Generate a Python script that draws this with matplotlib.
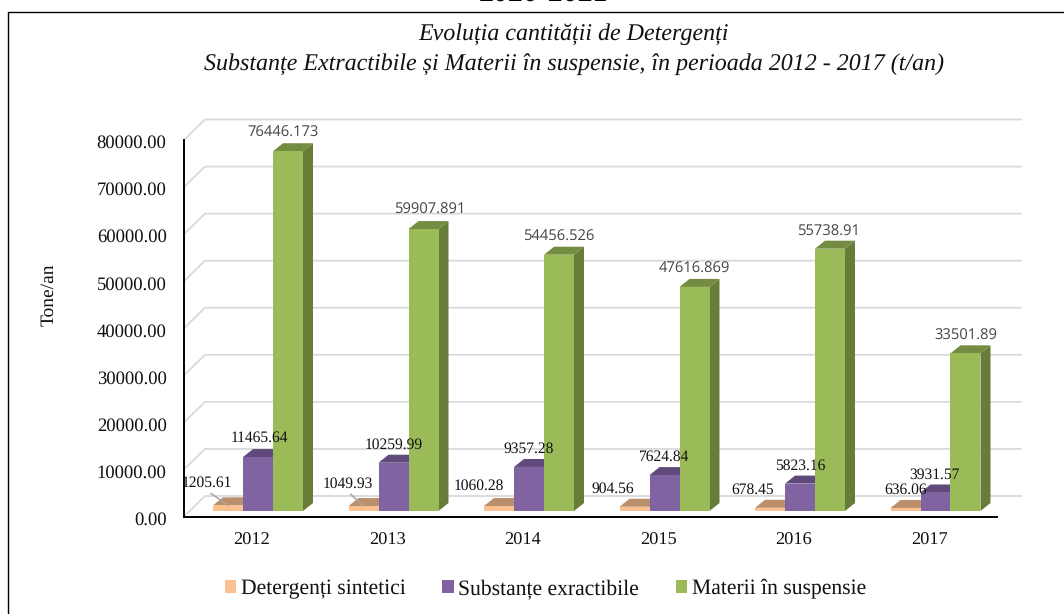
import matplotlib
matplotlib.use("Agg")
import matplotlib.pyplot as plt
from matplotlib.lines import Line2D
from matplotlib.patches import Patch, Polygon
from matplotlib.transforms import ScaledTranslation

# ---------- data ----------
years = ["2012", "2013", "2014", "2015", "2016", "2017"]
detergenti = [1205.61, 1049.93, 1060.28, 904.56, 678.45, 636.06]
substante = [11465.64, 10259.99, 9357.28, 7624.84, 5823.16, 3931.57]
materii = [76446.173, 59907.891, 54456.526, 47616.869, 55738.91, 33501.89]
series_names = ["Detergenți sintetici", "Substanțe exractibile", "Materii în suspensie"]
y_ticks = [0, 10000, 20000, 30000, 40000, 50000, 60000, 70000, 80000]

# ---------- label nudges (pixels from the bar-top centre) ----------
det_nudge = [(-21, 22), (-16, 22), (-20, 20), (-22, 18), (-17, 18), (0, 18)]
sub_nudge = [(1, 19), (0, 18), (0, 18), (0, 18), (0, 18), (-1, 18)]
mat_nudge = [(-5, 18), (6, 19), (0, 18), (0, 18), (-1, 17), (0, 17)]
leaders = [True, True, False, False, False, False]

# ---------- style ----------
W, H, DPI = 1064, 614, 100
SERIF = "Liberation Serif"
FACE = ["#FAC090", "#8064A2", "#9BBB59"]
TOP = ["#BA8F6B", "#604A7B", "#748C42"]
SIDE = ["#BA8F6B", "#4F3D66", "#667C38"]

plt.rcParams["font.family"] = SERIF
plt.rcParams["text.hinting"] = "none"
fig = plt.figure(figsize=(W / DPI, H / DPI), dpi=DPI, facecolor="white")
L, R, T, B = 184, 997, 140, 516.5
ax = fig.add_axes([L / W, 1 - B / H, (R - L) / W, (B - T) / H])
ax.set_xlim(-0.5, 5.5)
ax.set_ylim(0, 80000)
ax.patch.set_alpha(0)

px_x = 6.0 / (R - L)          # data units per pixel, x
px_y = 80000 / (B - T)        # data units per pixel, y
bar_w = 30 * px_x
bar_dx, bar_dy = 10 * px_x, 8 * px_y
floor = 5.5 * px_y
wall_dx, wall_dy = 21 * px_x, 20.5 * px_y
shift = 6.25 * px_x

# back wall gridlines
for t in y_ticks:
    ax.plot([-0.5, -0.5 + wall_dx, 5.5 + 24 * px_x],
            [t, t + wall_dy, t + wall_dy],
            color="#D9D9D9", lw=1.3, clip_on=False, zorder=1)

# pseudo-3D bars
xs = list(range(len(years)))
all_series = [detergenti, substante, materii]
all_nudges = [det_nudge, sub_nudge, mat_nudge]
for k, vals in enumerate(all_series):
    pos = [x + (k - 1) * bar_w + shift for x in xs]
    for x, v in zip(pos, vals):
        x0, x1 = x - bar_w / 2, x + bar_w / 2
        top = floor + v
        ax.add_patch(Polygon([(x1, floor), (x1 + bar_dx, floor + bar_dy),
                              (x1 + bar_dx, top + bar_dy), (x1, top)],
                             fc=SIDE[k], ec="none", clip_on=False, zorder=3 + k))
        ax.add_patch(Polygon([(x0, top), (x1, top), (x1 + bar_dx, top + bar_dy),
                              (x0 + bar_dx, top + bar_dy)],
                             fc=TOP[k], ec="none", clip_on=False, zorder=3 + k))
    ax.bar(pos, vals, width=bar_w, bottom=floor, color=FACE[k], linewidth=0,
           zorder=3.5 + k, clip_on=False)

# value labels
for k, (vals, nudges) in enumerate(zip(all_series, all_nudges)):
    pos = [x + (k - 1) * bar_w + shift for x in xs]
    for i, (x, v, n) in enumerate(zip(pos, vals, nudges)):
        kw = dict(family=SERIF, fontsize=11.2, color="#111111")
        if k == 2:
            kw = dict(family="Open Sans", fontsize=10.6, color="#444444")
        arrow = None
        if k == 0 and leaders[i]:
            arrow = dict(arrowstyle="-", color="#A6A6A6", lw=1.1, shrinkA=0, shrinkB=0,
                         relpos=(0.5, 0))
        ax.annotate(f"{v}", xy=(x, floor + v), xytext=n, textcoords="offset pixels",
                    ha="center", va="center", zorder=10, annotation_clip=False,
                    arrowprops=arrow, **kw)

# axes
for s in ("top", "right"):
    ax.spines[s].set_visible(False)
for s in ("left", "bottom"):
    ax.spines[s].set_linewidth(1.4)
    ax.spines[s].set_color("black")
    ax.spines[s].set_zorder(9)
ax.set_xticks(xs, years)
ax.set_yticks(y_ticks, [f"{t:.2f}" for t in y_ticks])
ax.tick_params(axis="x", length=0, pad=11.5, labelsize=13.2, labelcolor="#111111")
ax.tick_params(axis="y", length=0, pad=12.5, labelsize=13.4, labelcolor="#111111")
nudge = ScaledTranslation(0, -1.5 / DPI, fig.dpi_scale_trans)
for lab in ax.get_yticklabels():
    lab.set_transform(lab.get_transform() + nudge)
ax.set_ylabel("Tone/an", fontsize=14, color="#111111")
ax.yaxis.set_label_coords((57 - L) / (R - L), (B - 295) / (B - T))

# titles
fig.suptitle("Evoluția cantității de Detergenți\n"
             "Substanțe Extractibile și Materii în suspensie, în perioada 2012 - 2017 (t/an)",
             x=574 / W, y=1 - 49 / H, ha="center", va="center",
             style="italic", fontsize=17.3, linespacing=1.5, color="#111111")
fig.text(543 / W, 1 - 2 / H, "2020-2021", ha="center", va="baseline",
         fontsize=21.5, fontweight="bold", color="black")

# outer frame
fig.add_artist(Line2D([8 / W, 8 / W, 1], [0, 1 - 11.5 / H, 1 - 11.5 / H],
                      color="black", lw=1.0, transform=fig.transFigure))

# legend
handles = [Patch(fc=c, ec="none") for c in FACE]
fig.legend(handles, series_names, loc="center left",
           bbox_to_anchor=(225 / W, 1 - 589 / H), ncol=3, frameon=False,
           fontsize=15.6, borderpad=0, borderaxespad=0, handlelength=0.53,
           handleheight=0.53, handletextpad=0.2, columnspacing=1.7,
           labelcolor="#111111")

fig.savefig("out.png", dpi=DPI)
